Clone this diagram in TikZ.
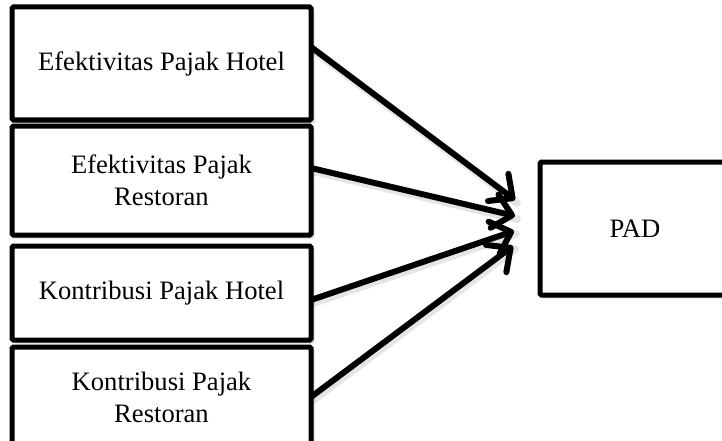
\documentclass[tikz,border=0pt]{standalone}
\usepackage{fontspec}
\setmainfont{Liberation Serif}
\usetikzlibrary{arrows.meta,shadows.blur}

\tikzset{
  varbox/.style={draw=black, line width=5pt, rounded corners=1.5pt, fill=white,
    outer sep=0pt, inner sep=0pt, align=center,
    font=\fontsize{26.6}{32}\selectfont,
    blur shadow={shadow xshift=2.5pt, shadow yshift=-2.5pt, shadow blur steps=6, shadow opacity=35}},
  link/.style={line width=6pt, -{Straight Barb[length=18pt, width=34pt, line cap=round, line join=round]}},
  linkshadow/.style={line width=8pt, draw=black, opacity=0.10, line cap=round},
}

\begin{document}
\begin{tikzpicture}[x=1pt, y=-1pt]
  \useasboundingbox (0,0) rectangle (722,441);
  \clip (0,0) rectangle (722,441);

  % independent variables
  \node[varbox, minimum width=299pt, minimum height=113pt] (b1) at (161.5,63.5) {Efektivitas Pajak Hotel};
  \node[varbox, minimum width=299pt, minimum height=109pt] (b2) at (161.5,180.5) {Efektivitas Pajak\\Restoran};
  \node[varbox, minimum width=299pt, minimum height=94pt]  (b3) at (161.5,293) {Kontribusi Pajak Hotel};
  \node[varbox, minimum width=299pt, minimum height=100pt] (b4) at (161.5,397) {Kontribusi Pajak\\Restoran};

  % dependent variable
  \node[varbox, minimum width=190pt, minimum height=133pt] (pad) at (635,228.5) {PAD};

  % arrow tips converging in front of PAD
  \coordinate (t1) at (515,200);
  \coordinate (t2) at (515,216);
  \coordinate (t3) at (514,231);
  \coordinate (t4) at (513,246);

  % soft shadows under the connectors
  \draw[linkshadow] ([xshift=2pt,yshift=13.5pt]b1.east) -- ([xshift=2pt,yshift=-3pt]t1);
  \draw[linkshadow] ([xshift=2pt,yshift=9.5pt]b2.east)  -- ([xshift=2pt,yshift=-3pt]t2);
  \draw[linkshadow] ([xshift=2pt,yshift=-10pt]b3.east)  -- ([xshift=2pt,yshift=-3pt]t3);
  \draw[linkshadow] ([xshift=2pt,yshift=-3pt]b4.east)   -- ([xshift=2pt,yshift=-3pt]t4);

  % connectors
  \draw[link] ([yshift=16.5pt]b1.east) -- (t1);
  \draw[link] ([yshift=12.5pt]b2.east) -- (t2);
  \draw[link] ([yshift=-7pt]b3.east)   -- (t3);
  \draw[link] (b4.east)                -- (t4);
\end{tikzpicture}
\end{document}
